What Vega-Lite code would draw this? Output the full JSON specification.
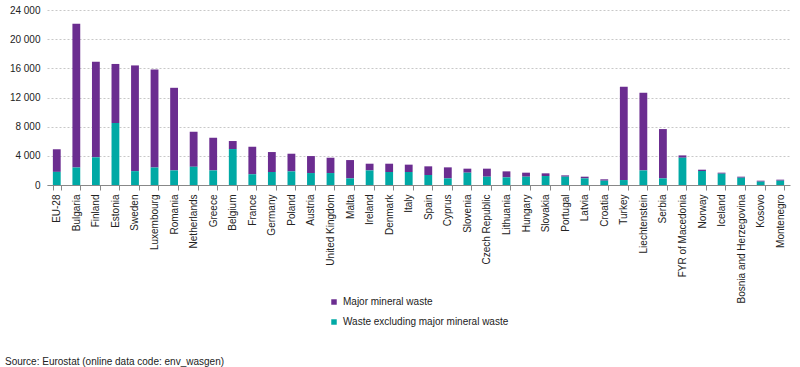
{
  "$schema": "https://vega.github.io/schema/vega-lite/v6.json",
  "autosize": "none",
  "width": 743,
  "height": 175,
  "padding": {"left": 47, "top": 10, "right": 10, "bottom": 182},
  "background": "white",
  "config": {
    "font": "Liberation Sans",
    "view": {"stroke": null},
    "axis": {"labelFont": "Liberation Sans", "labelFontSize": 10, "labelColor": "#222222"},
    "legend": {"labelFont": "Liberation Sans", "labelFontSize": 10, "labelColor": "#222222"}
  },
  "title": {
    "text": "Source: Eurostat (online data code: env_wasgen)",
    "orient": "bottom",
    "anchor": "start",
    "frame": "group",
    "offset": 30,
    "dx": -42,
    "fontSize": 10,
    "fontWeight": "normal",
    "font": "Liberation Sans",
    "color": "#222222"
  },
  "data": {
    "values": [
      {"country": "EU-28", "Major mineral waste": 3100, "Waste excluding major mineral waste": 1800},
      {"country": "Bulgaria", "Major mineral waste": 19700, "Waste excluding major mineral waste": 2400},
      {"country": "Finland", "Major mineral waste": 13100, "Waste excluding major mineral waste": 3800},
      {"country": "Estonia", "Major mineral waste": 8100, "Waste excluding major mineral waste": 8500},
      {"country": "Sweden", "Major mineral waste": 14500, "Waste excluding major mineral waste": 1900},
      {"country": "Luxembourg", "Major mineral waste": 13450, "Waste excluding major mineral waste": 2400},
      {"country": "Romania", "Major mineral waste": 11330, "Waste excluding major mineral waste": 2000},
      {"country": "Netherlands", "Major mineral waste": 4800, "Waste excluding major mineral waste": 2500},
      {"country": "Greece", "Major mineral waste": 4480, "Waste excluding major mineral waste": 2000},
      {"country": "Belgium", "Major mineral waste": 1100, "Waste excluding major mineral waste": 4930},
      {"country": "France", "Major mineral waste": 3790, "Waste excluding major mineral waste": 1460},
      {"country": "Germany", "Major mineral waste": 2740, "Waste excluding major mineral waste": 1780},
      {"country": "Poland", "Major mineral waste": 2420, "Waste excluding major mineral waste": 1870},
      {"country": "Austria", "Major mineral waste": 2330, "Waste excluding major mineral waste": 1640},
      {"country": "United Kingdom", "Major mineral waste": 2100, "Waste excluding major mineral waste": 1640},
      {"country": "Malta", "Major mineral waste": 2510, "Waste excluding major mineral waste": 910},
      {"country": "Ireland", "Major mineral waste": 920, "Waste excluding major mineral waste": 2000},
      {"country": "Denmark", "Major mineral waste": 1140, "Waste excluding major mineral waste": 1780},
      {"country": "Italy", "Major mineral waste": 1010, "Waste excluding major mineral waste": 1780},
      {"country": "Spain", "Major mineral waste": 1190, "Waste excluding major mineral waste": 1370},
      {"country": "Cyprus", "Major mineral waste": 1510, "Waste excluding major mineral waste": 910},
      {"country": "Slovenia", "Major mineral waste": 550, "Waste excluding major mineral waste": 1690},
      {"country": "Czech Republic", "Major mineral waste": 1100, "Waste excluding major mineral waste": 1140},
      {"country": "Lithuania", "Major mineral waste": 820, "Waste excluding major mineral waste": 1050},
      {"country": "Hungary", "Major mineral waste": 550, "Waste excluding major mineral waste": 1140},
      {"country": "Slovakia", "Major mineral waste": 370, "Waste excluding major mineral waste": 1230},
      {"country": "Portugal", "Major mineral waste": 180, "Waste excluding major mineral waste": 1140},
      {"country": "Latvia", "Major mineral waste": 230, "Waste excluding major mineral waste": 910},
      {"country": "Croatia", "Major mineral waste": 190, "Waste excluding major mineral waste": 590},
      {"country": "Turkey", "Major mineral waste": 12790, "Waste excluding major mineral waste": 680},
      {"country": "Liechtenstein", "Major mineral waste": 10650, "Waste excluding major mineral waste": 2000},
      {"country": "Serbia", "Major mineral waste": 6760, "Waste excluding major mineral waste": 910},
      {"country": "FYR of Macedonia", "Major mineral waste": 320, "Waste excluding major mineral waste": 3740},
      {"country": "Norway", "Major mineral waste": 180, "Waste excluding major mineral waste": 1920},
      {"country": "Iceland", "Major mineral waste": 140, "Waste excluding major mineral waste": 1550},
      {"country": "Bosnia and Herzegovina", "Major mineral waste": 140, "Waste excluding major mineral waste": 1000},
      {"country": "Kosovo", "Major mineral waste": 130, "Waste excluding major mineral waste": 460},
      {"country": "Montenegro", "Major mineral waste": 140, "Waste excluding major mineral waste": 590}
    ]
  },
  "transform": [
    {"fold": ["Major mineral waste", "Waste excluding major mineral waste"], "as": ["type", "value"]}
  ],
  "mark": {"type": "bar"},
  "encoding": {
    "x": {
      "field": "country",
      "type": "nominal",
      "sort": null,
      "scale": {"paddingInner": 0.6, "paddingOuter": 0.3},
      "axis": {
        "title": null,
        "labelAngle": -90,
        "labelPadding": 4,
        "tickBand": "extent",
        "tickSize": 5,
        "tickColor": "#888888",
        "domainColor": "#888888",
        "labelLimit": 0
      }
    },
    "y": {
      "field": "value",
      "type": "quantitative",
      "stack": "zero",
      "scale": {"domain": [0, 24000], "nice": false},
      "axis": {
        "title": null,
        "values": [0, 4000, 8000, 12000, 16000, 20000, 24000],
        "labelExpr": "replace(format(datum.value, ','), ',', ' ')",
        "domain": false,
        "ticks": false,
        "labelPadding": 7,
        "grid": true,
        "gridColor": "#c8c8c8",
        "gridDash": [2, 2],
        "gridWidth": 1
      }
    },
    "color": {
      "field": "type",
      "type": "nominal",
      "scale": {
        "domain": ["Major mineral waste", "Waste excluding major mineral waste"],
        "range": ["#6b2d90", "#00a9a5"]
      },
      "legend": {
        "title": null,
        "orient": "none",
        "legendX": 282,
        "legendY": 287,
        "symbolType": "square",
        "symbolSize": 30,
        "symbolStrokeWidth": 0,
        "rowPadding": 10,
        "labelOffset": 4,
        "labelLimit": 0,
        "padding": 0
      }
    },
    "order": {"field": "type", "sort": "descending"}
  }
}
